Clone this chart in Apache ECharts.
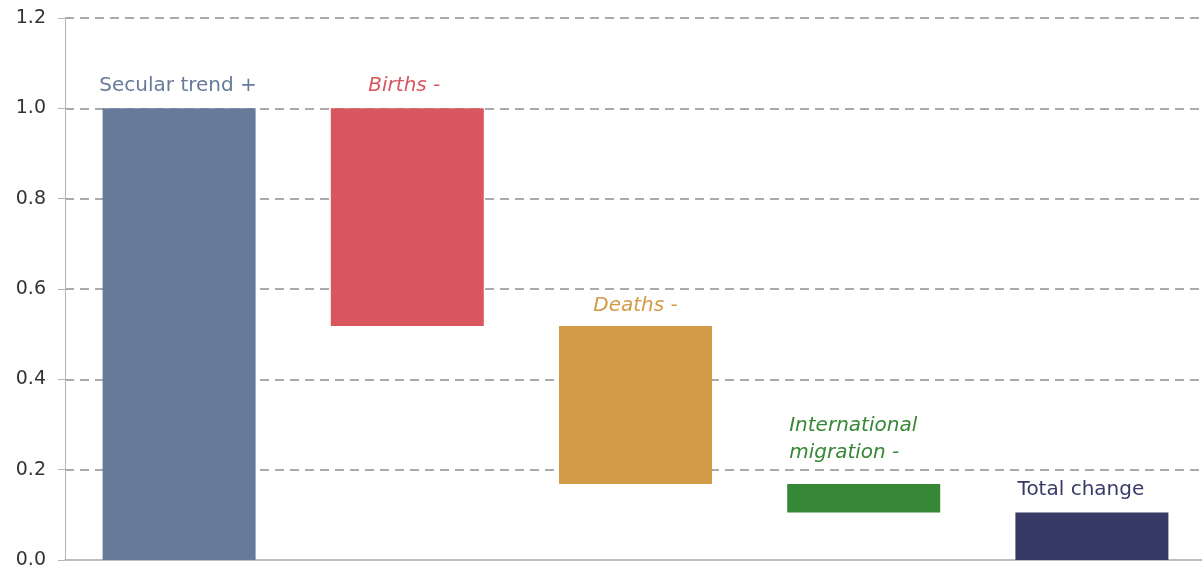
<!DOCTYPE html>
<html>
<head>
<meta charset="utf-8">
<script src="https://cdn.jsdelivr.net/npm/echarts@6/dist/echarts.min.js"></script>
<style>
html, body { margin: 0; padding: 0; background: #fff; overflow: hidden; }
#main { width: 1206px; height: 571px; }
</style>
</head>
<body>
<div id="main"></div>
<script>
// waterfall pieces: each bar spans from bottom to top
const categories = ['Secular trend +', 'Births -', 'Deaths -', 'International\nmigration -', 'Total change'];
const barBottom = [0, 0.518, 0.168, 0.105, 0];
const barTop = [1.0, 1.0, 0.518, 0.168, 0.105];
const barColors = ['#667a99', '#d9565e', '#d39a47', '#368736', '#383a66'];
const italicLabel = [false, true, true, true, false];

const chart = echarts.init(document.getElementById('main'));

const labelPos = [
  { position: 'top', distance: 9, offset: [-1, 0] },
  { position: 'top', distance: 9, offset: [-3, 0] },
  { position: 'top', distance: 7, offset: [0, 0] },
  { position: [2, -18], align: 'left', verticalAlign: 'bottom' },
  { position: 'top', distance: 9, offset: [-11, 0] }
];

const visible = categories.map((c, i) => ({
  value: +(barTop[i] - barBottom[i]).toFixed(3),
  itemStyle: { color: barColors[i] },
  label: Object.assign({
    show: true,
    formatter: c,
    color: barColors[i],
    fontStyle: italicLabel[i] ? 'italic' : 'normal',
    fontSize: 20,
    lineHeight: 27,
    fontFamily: 'DejaVu Sans'
  }, labelPos[i])
}));

chart.setOption({
  animation: false,
  grid: { left: 65, right: 0, top: 18, bottom: 11 },
  xAxis: {
    type: 'category',
    data: categories,
    axisLine: { lineStyle: { color: '#bdbdbd', width: 2 } },
    axisTick: { show: false },
    axisLabel: { show: false }
  },
  yAxis: {
    type: 'value',
    min: 0,
    max: 1.2,
    interval: 0.2,
    axisLine: { show: true, lineStyle: { color: '#b5b5b5', width: 1 } },
    axisTick: { show: true, length: 7, lineStyle: { color: '#b5b5b5' } },
    axisLabel: {
      formatter: v => v.toFixed(1),
      color: '#333',
      fontSize: 19,
      fontFamily: 'DejaVu Sans',
      margin: 19
    },
    splitLine: { lineStyle: { color: '#aaaaaa', type: [9, 6], width: 2 } }
  },
  series: [
    {
      type: 'bar',
      stack: 'w',
      barWidth: 153,
      itemStyle: { color: 'transparent' },
      emphasis: { disabled: true },
      data: barBottom
    },
    {
      type: 'bar',
      stack: 'w',
      barWidth: 153,
      emphasis: { disabled: true },
      data: visible
    }
  ]
});
</script>
</body>
</html>
